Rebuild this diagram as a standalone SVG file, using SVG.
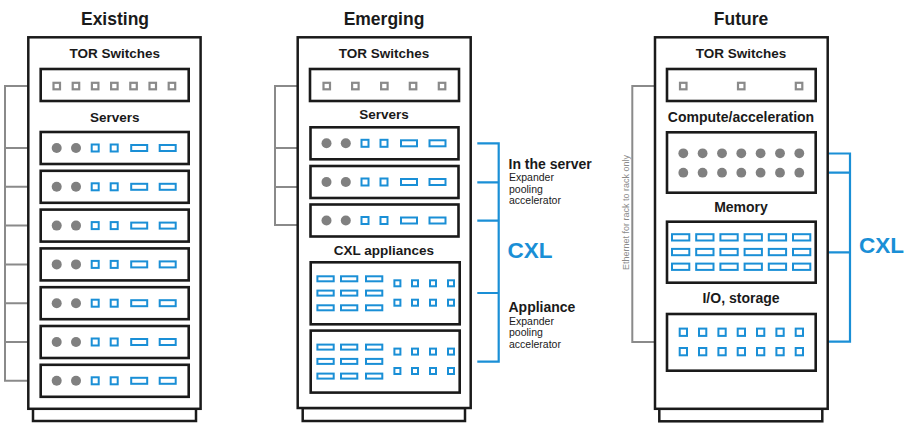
<svg xmlns="http://www.w3.org/2000/svg" xmlns:xlink="http://www.w3.org/1999/xlink" width="907" height="424" viewBox="0 0 907 424">
<style>
.rack{fill:#fff;stroke:#1a1a1a;stroke-width:2.5}
.box{fill:#fff;stroke:#1a1a1a;stroke-width:2.6}
.gsq{fill:#fff;stroke:#8a8a8a;stroke-width:2.2}
.bsq{fill:#fff;stroke:#1a8fd6;stroke-width:2}
.dot{fill:#808080}
.gl{fill:none;stroke:#8a8a8a;stroke-width:2}
.bl{fill:none;stroke:#1a8fd6;stroke-width:2.2}
.title{font-family:"Liberation Sans",Arial,sans-serif;font-weight:bold;font-size:17.5px;fill:#1a1a1a;text-anchor:middle}
.lbl{font-family:"Liberation Sans",Arial,sans-serif;font-weight:bold;font-size:13.5px;fill:#1a1a1a;text-anchor:middle}
.side{font-family:"Liberation Sans",Arial,sans-serif;font-weight:bold;font-size:14px;fill:#1a1a1a}
.sub{font-family:"Liberation Sans",Arial,sans-serif;font-size:10.5px;fill:#1a1a1a}
.cxl{font-family:"Liberation Sans",Arial,sans-serif;font-weight:bold;font-size:22.5px;fill:#1a8fd6}
.eth{font-family:"Liberation Sans",Arial,sans-serif;font-size:9px;fill:#8a8a8a;text-anchor:middle}
</style>
<defs>
<g id="srv">
<rect class="box" x="0" y="0" width="148" height="32"/>
<circle class="dot" cx="16" cy="16" r="5"/>
<circle class="dot" cx="35.3" cy="16" r="5"/>
<rect class="bsq" x="51" y="12.5" width="7" height="7"/>
<rect class="bsq" x="70" y="12.5" width="7" height="7"/>
<rect class="bsq" x="90.5" y="13" width="16" height="6"/>
<rect class="bsq" x="119" y="13" width="16" height="6"/>
</g>
<g id="app">
<rect class="box" x="0" y="0" width="149" height="62"/>
<rect class="bsq" x="6.7" y="14" width="16.3" height="5"/>
<rect class="bsq" x="30.3" y="14" width="16.3" height="5"/>
<rect class="bsq" x="55.3" y="14" width="16.3" height="5"/>
<rect class="bsq" x="6.7" y="28.3" width="16.3" height="5"/>
<rect class="bsq" x="30.3" y="28.3" width="16.3" height="5"/>
<rect class="bsq" x="55.3" y="28.3" width="16.3" height="5"/>
<rect class="bsq" x="6.7" y="43" width="16.3" height="5"/>
<rect class="bsq" x="30.3" y="43" width="16.3" height="5"/>
<rect class="bsq" x="55.3" y="43" width="16.3" height="5"/>
<rect class="bsq" x="83.7" y="18" width="6" height="6"/>
<rect class="bsq" x="101.3" y="18" width="6" height="6"/>
<rect class="bsq" x="119.3" y="18" width="6" height="6"/>
<rect class="bsq" x="137.3" y="18" width="6" height="6"/>
<rect class="bsq" x="83.7" y="37.4" width="6" height="6"/>
<rect class="bsq" x="101.3" y="37.4" width="6" height="6"/>
<rect class="bsq" x="119.3" y="37.4" width="6" height="6"/>
<rect class="bsq" x="137.3" y="37.4" width="6" height="6"/>
</g>
</defs>
<rect width="907" height="424" fill="#fff"/>

<g id="connectors">
<!-- Existing gray -->
<path class="gl" d="M28 86H5V380.8H28M5 148H28M5 186.8H28M5 225.6H28M5 264.4H28M5 303.2H28M5 342H28"/>
<!-- Emerging gray -->
<path class="gl" d="M298 86H275V225H298M275 148H298M275 187H298"/>
<!-- Emerging blue bracket -->
<path class="bl" d="M477.3 143.3H498.7V361.7H477.3M477.3 182.3H498.7M477.3 220.7H498.7M477.3 293H498.7"/>
<!-- Future gray -->
<path class="gl" d="M655 86H632.3V342H655"/>
<!-- Future blue -->
<path class="bl" d="M828 153.5H850V341.7H828M828 172.7H850M828 252.3H850"/>
</g>

<g id="existing">
<text class="title" x="115" y="25">Existing</text>
<rect class="rack" x="33" y="408.5" width="163" height="12.5"/>
<rect class="rack" x="28.3" y="37.3" width="172.3" height="371.5"/>
<text class="lbl" x="114.7" y="58">TOR Switches</text>
<g id="existing-tor">
<rect class="box" x="40.7" y="69" width="148" height="32"/>
<rect class="gsq" x="53.5" y="82.8" width="6.5" height="6.5"/>
<rect class="gsq" x="72.7" y="82.8" width="6.5" height="6.5"/>
<rect class="gsq" x="91.9" y="82.8" width="6.5" height="6.5"/>
<rect class="gsq" x="111.1" y="82.8" width="6.5" height="6.5"/>
<rect class="gsq" x="130.3" y="82.8" width="6.5" height="6.5"/>
<rect class="gsq" x="149.5" y="82.8" width="6.5" height="6.5"/>
<rect class="gsq" x="168.7" y="82.8" width="6.5" height="6.5"/>
</g>
<text class="lbl" x="114.7" y="122">Servers</text>
<g id="existing-server-1"><use xlink:href="#srv" href="#srv" x="40.7" y="132"/></g>
<g id="existing-server-2"><use xlink:href="#srv" href="#srv" x="40.7" y="170.8"/></g>
<g id="existing-server-3"><use xlink:href="#srv" href="#srv" x="40.7" y="209.6"/></g>
<g id="existing-server-4"><use xlink:href="#srv" href="#srv" x="40.7" y="248.4"/></g>
<g id="existing-server-5"><use xlink:href="#srv" href="#srv" x="40.7" y="287.2"/></g>
<g id="existing-server-6"><use xlink:href="#srv" href="#srv" x="40.7" y="326"/></g>
<g id="existing-server-7"><use xlink:href="#srv" href="#srv" x="40.7" y="364.8"/></g>
</g>

<g id="emerging">
<text class="title" x="384" y="25">Emerging</text>
<rect class="rack" x="302.7" y="408" width="162.3" height="13"/>
<rect class="rack" x="297.7" y="37.3" width="173" height="370.7"/>
<text class="lbl" x="384" y="58">TOR Switches</text>
<g id="emerging-tor">
<rect class="box" x="310" y="69" width="149" height="32"/>
<rect class="gsq" x="323.5" y="82.8" width="6.5" height="6.5"/>
<rect class="gsq" x="352.1" y="82.8" width="6.5" height="6.5"/>
<rect class="gsq" x="381.1" y="82.8" width="6.5" height="6.5"/>
<rect class="gsq" x="409.8" y="82.8" width="6.5" height="6.5"/>
<rect class="gsq" x="438.8" y="82.8" width="6.5" height="6.5"/>
</g>
<text class="lbl" x="384" y="119">Servers</text>
<g id="emerging-server-1"><use xlink:href="#srv" href="#srv" x="310.5" y="127.3"/></g>
<g id="emerging-server-2"><use xlink:href="#srv" href="#srv" x="310.5" y="166"/></g>
<g id="emerging-server-3"><use xlink:href="#srv" href="#srv" x="310.5" y="204.5"/></g>
<text class="lbl" x="384" y="254.5">CXL appliances</text>
<g id="emerging-appliance-1"><use xlink:href="#app" href="#app" x="310.7" y="262.3"/></g>
<g id="emerging-appliance-2"><use xlink:href="#app" href="#app" x="310.7" y="330.6"/></g>
</g>

<g id="emerging-labels">
<text class="side" x="508.5" y="168.5">In the server</text>
<text class="sub" x="509" y="181">Expander</text>
<text class="sub" x="509" y="192.5">pooling</text>
<text class="sub" x="509" y="204">accelerator</text>
<text class="cxl" x="507.5" y="258">CXL</text>
<text class="side" x="508.5" y="312">Appliance</text>
<text class="sub" x="509" y="324.5">Expander</text>
<text class="sub" x="509" y="336">pooling</text>
<text class="sub" x="509" y="347.5">accelerator</text>
</g>

<g id="future">
<text class="title" x="741" y="25">Future</text>
<rect class="rack" x="659.3" y="408.8" width="163" height="12.5"/>
<rect class="rack" x="655" y="37.3" width="172.7" height="371.5"/>
<text class="lbl" x="741" y="58">TOR Switches</text>
<g id="future-tor">
<rect class="box" x="667" y="69" width="148.7" height="32"/>
<rect class="gsq" x="680" y="82.8" width="6.5" height="6.5"/>
<rect class="gsq" x="738" y="82.8" width="6.5" height="6.5"/>
<rect class="gsq" x="795.8" y="82.8" width="6.5" height="6.5"/>
</g>
<text class="lbl" x="741" y="121.5" style="font-size:14px">Compute/acceleration</text>
<g id="future-compute">
<rect class="box" x="667" y="132.3" width="148.7" height="60.4"/>
<circle class="dot" cx="683.3" cy="153.3" r="4.9"/><circle class="dot" cx="702.6" cy="153.3" r="4.9"/><circle class="dot" cx="722" cy="153.3" r="4.9"/><circle class="dot" cx="741.3" cy="153.3" r="4.9"/><circle class="dot" cx="760.6" cy="153.3" r="4.9"/><circle class="dot" cx="780" cy="153.3" r="4.9"/><circle class="dot" cx="799.3" cy="153.3" r="4.9"/>
<circle class="dot" cx="683.3" cy="172.7" r="4.9"/><circle class="dot" cx="702.6" cy="172.7" r="4.9"/><circle class="dot" cx="722" cy="172.7" r="4.9"/><circle class="dot" cx="741.3" cy="172.7" r="4.9"/><circle class="dot" cx="760.6" cy="172.7" r="4.9"/><circle class="dot" cx="780" cy="172.7" r="4.9"/><circle class="dot" cx="799.3" cy="172.7" r="4.9"/>
</g>
<text class="lbl" x="741" y="212" style="font-size:14px">Memory</text>
<g id="future-memory">
<rect class="box" x="667" y="221.7" width="148.7" height="61"/>
<rect class="bsq" x="672" y="234.2" width="17.3" height="6.3"/><rect class="bsq" x="696.2" y="234.2" width="17.3" height="6.3"/><rect class="bsq" x="720.4" y="234.2" width="17.3" height="6.3"/><rect class="bsq" x="744.6" y="234.2" width="17.3" height="6.3"/><rect class="bsq" x="768.8" y="234.2" width="17.3" height="6.3"/><rect class="bsq" x="793" y="234.2" width="17.3" height="6.3"/>
<rect class="bsq" x="672" y="248.9" width="17.3" height="6.3"/><rect class="bsq" x="696.2" y="248.9" width="17.3" height="6.3"/><rect class="bsq" x="720.4" y="248.9" width="17.3" height="6.3"/><rect class="bsq" x="744.6" y="248.9" width="17.3" height="6.3"/><rect class="bsq" x="768.8" y="248.9" width="17.3" height="6.3"/><rect class="bsq" x="793" y="248.9" width="17.3" height="6.3"/>
<rect class="bsq" x="672" y="263.6" width="17.3" height="6.3"/><rect class="bsq" x="696.2" y="263.6" width="17.3" height="6.3"/><rect class="bsq" x="720.4" y="263.6" width="17.3" height="6.3"/><rect class="bsq" x="744.6" y="263.6" width="17.3" height="6.3"/><rect class="bsq" x="768.8" y="263.6" width="17.3" height="6.3"/><rect class="bsq" x="793" y="263.6" width="17.3" height="6.3"/>
</g>
<text class="lbl" x="741" y="303" style="font-size:14px">I/O, storage</text>
<g id="future-io">
<rect class="box" x="667" y="314" width="148.7" height="56.7"/>
<rect class="bsq" x="679.7" y="328.6" width="7.3" height="7.3"/><rect class="bsq" x="699" y="328.6" width="7.3" height="7.3"/><rect class="bsq" x="718.4" y="328.6" width="7.3" height="7.3"/><rect class="bsq" x="737.7" y="328.6" width="7.3" height="7.3"/><rect class="bsq" x="757" y="328.6" width="7.3" height="7.3"/><rect class="bsq" x="776.4" y="328.6" width="7.3" height="7.3"/><rect class="bsq" x="795.7" y="328.6" width="7.3" height="7.3"/>
<rect class="bsq" x="679.7" y="348" width="7.3" height="7.3"/><rect class="bsq" x="699" y="348" width="7.3" height="7.3"/><rect class="bsq" x="718.4" y="348" width="7.3" height="7.3"/><rect class="bsq" x="737.7" y="348" width="7.3" height="7.3"/><rect class="bsq" x="757" y="348" width="7.3" height="7.3"/><rect class="bsq" x="776.4" y="348" width="7.3" height="7.3"/><rect class="bsq" x="795.7" y="348" width="7.3" height="7.3"/>
</g>
</g>

<g id="future-labels">
<text class="eth" x="628.5" y="212.5" transform="rotate(-90 628.5 212.5)">Ethernet for rack to rack only</text>
<text class="cxl" x="859" y="253">CXL</text>
</g>
</svg>
